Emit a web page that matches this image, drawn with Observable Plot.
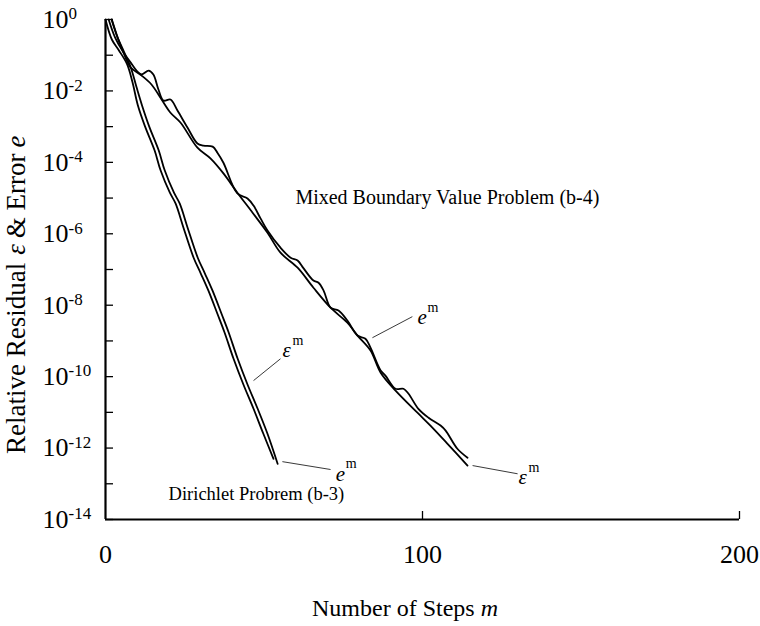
<!DOCTYPE html>
<html>
<head>
<meta charset="utf-8">
<script src="https://cdn.jsdelivr.net/npm/d3@7"></script>
<script src="https://cdn.jsdelivr.net/npm/@observablehq/plot@0.6"></script>
<style>
  body { margin: 0; background: #fff; }
  #chart svg { display: block; }
</style>
</head>
<body>
<div id="chart"></div>
<script>
// ---- Data (log10 of the value) ----
const dirLeftSteps = [0, 2.0, 4.2, 6.8, 8.5, 10.2, 12.5, 15.5, 17.4, 20.3, 22.1, 24.6, 27.8, 30.0, 32.5, 35.3, 37.5, 40.4, 43.5, 46.7, 49.8, 53.0];
const dirLeftLog   = [0, -0.56, -0.86, -1.25, -1.75, -2.4, -3.0, -3.67, -4.23, -4.85, -5.15, -5.83, -6.67, -7.1, -7.6, -8.24, -8.75, -9.5, -10.22, -10.9, -11.6, -12.3];

const dirRightSteps = [1.9, 3.8, 5.8, 8.0, 9.8, 11.5, 13.8, 16.8, 18.7, 21.6, 23.4, 25.9, 29.1, 31.3, 33.8, 36.6, 38.8, 41.7, 44.8, 48.0, 51.1, 54.3];
const dirRightLog   = [0, -0.5, -0.9, -1.35, -1.9, -2.4, -3.0, -3.67, -4.23, -4.85, -5.15, -5.83, -6.67, -7.1, -7.6, -8.24, -8.75, -9.5, -10.22, -10.9, -11.6, -12.44];

const mixBumpySteps = [1.0, 3.0, 5.5, 7.9, 10.0, 11.4, 13.6, 15.1, 16.7, 18.3, 20.5, 22.7, 25.9, 29.0, 30.9, 33.8, 35.3, 37.2, 41.6, 44.8, 46.7, 48.9, 51.1, 55.2, 58.4, 60.6, 62.5, 65.6, 67.2, 68.8, 71.0, 73.5, 76.3, 79.5, 82.0, 83.6, 86.8, 88.3, 91.5, 94.0, 95.6, 98.7, 101.9, 105.7, 107.3, 111.0, 114.2];
const mixBumpyLog   = [0, -0.5, -0.9, -1.2, -1.45, -1.54, -1.43, -1.54, -1.96, -2.27, -2.24, -2.55, -3.03, -3.47, -3.53, -3.56, -3.73, -4.01, -4.87, -5.01, -5.21, -5.57, -5.91, -6.39, -6.67, -6.75, -6.97, -7.31, -7.37, -7.59, -8.07, -8.15, -8.43, -8.85, -8.94, -9.19, -9.83, -9.97, -10.34, -10.34, -10.48, -10.9, -11.15, -11.37, -11.51, -12.02, -12.27];

const mixSmoothSteps = [2.0, 4.0, 6.0, 7.9, 11.4, 14.5, 17.7, 20.5, 23.7, 29.0, 33.1, 37.2, 41.6, 46.4, 51.1, 55.2, 60.6, 65.6, 71.0, 76.3, 79.5, 83.6, 86.8, 91.5, 98.4, 102.5, 107.9, 114.2];
const mixSmoothLog   = [0, -0.55, -1.0, -1.34, -1.57, -1.82, -2.24, -2.61, -2.89, -3.59, -3.89, -4.31, -4.85, -5.41, -5.97, -6.53, -6.95, -7.51, -8.07, -8.49, -8.85, -9.27, -9.89, -10.39, -11.01, -11.37, -11.88, -12.49];

// Tick values
const yTickExps  = [0, -1, -2, -3, -4, -5, -6, -7, -8, -9, -10, -11, -12, -13, -14];
const yLabelExps = [0, -2, -4, -6, -8, -10, -12, -14];
const xLabelTicks = [0, 100, 200];
const xMarkTicks  = [100, 200];

// Problem labels
const problemNames = ["Mixed Boundary Value Problem (b-4)", "Dirichlet Probrem (b-3)"];
const problemStep  = [59.9, 19.9];
const problemLog   = [-4.99, -13.28];

// Curve annotations (letter + superscript m) and leader lines
const annoLetter = ["ε", "e", "e", "ε"];
const annoStep   = [55.8, 72.6, 98.4, 130.3];
const annoLog    = [-9.27, -12.72, -8.35, -12.83];
const leadStep1  = [46.7, 55.8, 84.2, 115.8];
const leadLog1   = [-10.11, -12.38, -8.91, -12.49];
const leadStep2  = [55.2, 71.0, 96.8, 130.0];
const leadLog2   = [-9.50, -12.60, -8.32, -12.72];

// ---- Build tables ----
const series = [
  ["dirichlet-e", dirLeftSteps, dirLeftLog],
  ["dirichlet-eps", dirRightSteps, dirRightLog],
  ["mixed-e", mixBumpySteps, mixBumpyLog],
  ["mixed-eps", mixSmoothSteps, mixSmoothLog]
];
const rows = series.flatMap(([name, s, l]) => s.map((v, i) => ({series: name, step: v, value: Math.pow(10, l[i])})));
const problems = problemNames.map((t, i) => ({text: t, step: problemStep[i], value: Math.pow(10, problemLog[i])}));
const annos = annoLetter.map((t, i) => ({text: t, step: annoStep[i], value: Math.pow(10, annoLog[i])}));
const leads = leadStep1.map((s, i) => ({x1: s, y1: Math.pow(10, leadLog1[i]), x2: leadStep2[i], y2: Math.pow(10, leadLog2[i])}));

const FONT = '"Liberation Serif", "Times New Roman", Times, serif';

const chart = Plot.plot({
  width: 760,
  height: 626,
  marginLeft: 105,
  marginRight: 21,
  marginTop: 19,
  marginBottom: 107,
  style: {fontFamily: FONT, fontSize: "26px", background: "#fff", color: "#000"},
  x: {domain: [0, 200]},
  y: {type: "log", domain: [1e-14, 1]},
  marks: [
    Plot.axisY({ticks: yTickExps.map(e => Math.pow(10, e)), tickSize: -8, text: null, label: null, strokeWidth: 1.3}),
    Plot.axisY({ticks: yLabelExps.map(e => Math.pow(10, e)), tickSize: 0, tickPadding: 63, textAnchor: "start",
      tickFormat: d => "10^" + Math.round(Math.log10(d)), label: null}),
    Plot.axisX({ticks: xMarkTicks, tickSize: -8, text: null, label: null, strokeWidth: 1.3}),
    Plot.axisX({ticks: xLabelTicks, tickSize: 0, tickPadding: 25, tickFormat: d => "" + d, label: null}),
    Plot.ruleX([0], {strokeWidth: 2.2}),
    Plot.ruleY([1e-14], {strokeWidth: 2.2}),
    Plot.line(rows, {x: "step", y: "value", z: "series", stroke: "#000", strokeWidth: 1.8, curve: "catmull-rom"}),
    Plot.link(leads, {x1: "x1", y1: "y1", x2: "x2", y2: "y2", stroke: "#222", strokeWidth: 0.9}),
    Plot.text(problems.slice(0, 1), {x: "step", y: "value", text: "text", textAnchor: "start", fontSize: 20, fill: "#000"}),
    Plot.text(problems.slice(1), {x: "step", y: "value", text: "text", textAnchor: "start", fontSize: 18.5, fill: "#000"}),
    Plot.text(annos, {x: "step", y: "value", text: "text", textAnchor: "start", fontSize: 21, fontStyle: "italic", fill: "#000"}),
    Plot.text(annos, {x: "step", y: "value", text: () => "m", textAnchor: "start", fontSize: 14, dx: 10, dy: -10, fill: "#000"})
  ]
});

document.getElementById("chart").appendChild(chart);

const svg = d3.select(chart);

// Superscript exponents on the y tick labels
svg.selectAll("text").filter(function () { return /^10\^/.test(this.textContent); }).each(function () {
  const exp = this.textContent.slice(3);
  const el = d3.select(this);
  el.style("font-size", "26px");
  el.text("10");
  el.append("tspan").attr("dy", "-0.5em").style("font-size", "17px").text(exp);
});
svg.selectAll("text").filter(function () { return /^(0|100|200)$/.test(this.textContent); })
  .style("font-size", "26px");

// Axis titles
const xt = svg.append("text")
  .attr("x", 405).attr("y", 616)
  .attr("text-anchor", "middle")
  .style("font-size", "24px").attr("fill", "#000")
  .attr("font-family", FONT);
xt.append("tspan").text("Number of Steps ");
xt.append("tspan").attr("font-style", "italic").text("m");

const yt = svg.append("text")
  .attr("transform", "translate(25,454) rotate(-90)")
  .attr("text-anchor", "start")
  .style("font-size", "27px").attr("fill", "#000")
  .attr("font-family", FONT);
yt.append("tspan").text("Relative Residual");
yt.append("tspan").attr("dx", 8).attr("font-style", "italic").text("ε");
yt.append("tspan").attr("dx", 6).text("& Error");
yt.append("tspan").attr("dx", 6).attr("font-style", "italic").text("e");
</script>
</body>
</html>
